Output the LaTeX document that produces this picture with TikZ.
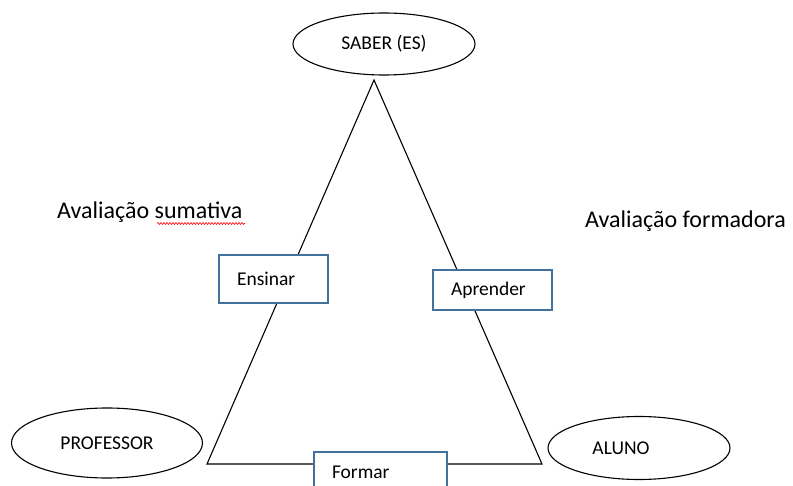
\documentclass[tikz,border=0pt]{standalone}
\usepackage{fontspec}
\setmainfont{Carlito}
\usetikzlibrary{shapes.geometric,decorations.pathmorphing}
\definecolor{boxblue}{RGB}{65,113,156}

\begin{document}
\begin{tikzpicture}[x=1pt, y=-1pt,
  pole/.style={draw=black, line width=1.1pt, ellipse, fill=white, inner sep=0pt, font=\fontsize{19.5}{22}\selectfont},
  task/.style={draw=boxblue, line width=1.1pt, fill=white, align=left, inner xsep=18pt, inner ysep=0pt, font=\fontsize{19.5}{22}\selectfont},
  note/.style={inner sep=0pt, anchor=base west, font=\fontsize{24}{28}\selectfont}]
\useasboundingbox (0,0) rectangle (793,486);
\clip (0,0) rectangle (793,486);
\coordinate (apex) at (374,80);
\coordinate (cornerL) at (207,464);
\coordinate (cornerR) at (542,464);
\draw [line width=1.1pt] (apex) -- (cornerL) -- (cornerR) -- cycle;
\node[pole, minimum width=182, minimum height=62] (saber) at (384,44) {SABER (ES)};
\node[pole, minimum width=191, minimum height=70] (professor) at (107,443) {PROFESSOR};
\node[pole, minimum width=182, minimum height=63] (aluno) at (639,448) {};
\node[font=\fontsize{19.5}{22}\selectfont] at ([xshift=-18pt]aluno.center) {ALUNO};
\node[task, text width=73, minimum height=48] (ensinar) at (273.5,279) {Ensinar};
\node[task, text width=83, minimum height=40] (aprender) at (492.5,290) {Aprender};
\node[task, text width=97, minimum height=40] (formar) at (380.5,472) {Formar};
\node[note] (sumativa) at (57,219) {Avaliação sumativa};
\node[note] (formadora) at (585,228) {Avaliação formadora};
\draw [red, line width=0.6pt, decorate, decoration={snake, amplitude=1pt, segment length=3pt}] (157,223.5) -- (245,223.5);
\end{tikzpicture}
\end{document}
